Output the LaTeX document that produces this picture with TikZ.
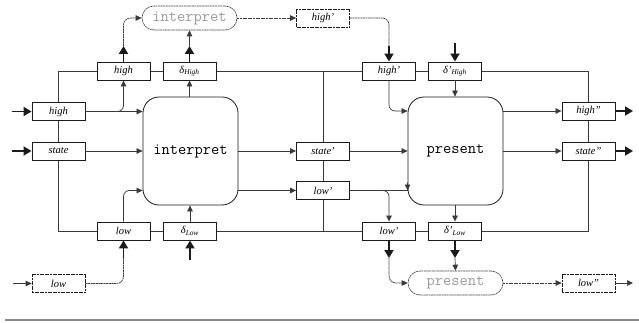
\documentclass[tikz,border=0pt]{standalone}
\usepackage{fontspec}
\setmainfont{Liberation Serif}
\usepackage{tikz}
\usetikzlibrary{positioning,arrows.meta,backgrounds,calc}
\definecolor{cInk}{HTML}{1B1B1B}
\definecolor{cLine}{HTML}{3A3A3A}
\definecolor{cGhost}{HTML}{9A9A9A}
\definecolor{cRule}{HTML}{8A8A8A}
\tikzset{
  cell/.style={draw=cInk, line width=0.9pt, fill=white, minimum width=53pt,
               minimum height=18pt, inner sep=0pt, font=\fontsize{10.5}{12}\selectfont\itshape},
  cellD/.style={cell, line width=0.7pt, dash pattern=on 2pt off 0.6pt},
  proc/.style={draw=cInk, line width=0.8pt, fill=white, rounded corners=16pt,
               minimum width=95pt, minimum height=108pt,
               font=\fontsize{16}{18}\selectfont\ttfamily},
  ghost/.style={draw=black!75, line width=0.6pt, dash pattern=on 2pt off 0.6pt,
                rounded corners=12pt, minimum width=95pt, minimum height=24pt,
                text=cGhost, font=\fontsize{16}{18}\selectfont\ttfamily},
  ln/.style={cLine, line width=0.7pt},
  lnD/.style={ln, dash pattern=on 2pt off 0.6pt},
  ar/.style={ln, -{Triangle[length=6pt,width=5.5pt]}},
  arD/.style={ar, lnD},
  arT/.style={cInk, line width=1.8pt, -{Triangle[length=8pt,width=9pt]}}
}
\begin{document}
\begin{tikzpicture}[x=1pt, y=-1pt]
\useasboundingbox (0,0) rectangle (639,323);
% left side
\node[cell] (hi) at (58.5,111.5) {high};
\node[cell] (st) at (58.5,151) {state};
\node[cellD] (lo) at (58.5,283.5) {low};
\node[cell] (hiA) at (123.5,71) {high};
\node[cell] (dH) at (189.5,71) {δ\textsubscript{High}};
\node[cell] (loA) at (123.5,231) {low};
\node[cell] (dL) at (190,231) {δ\textsubscript{Low}};
\node[proc] (interp) at (190.5,151) {interpret};
\node[ghost] (gI) at (189.5,18) {interpret};
% middle
\node[cellD] (hiP) at (323,18) {high'};
\node[cell] (stP) at (323,151) {state'};
\node[cell] (loP) at (323,190.5) {low'};
% right side
\node[cell] (hiB) at (389,71) {high'};
\node[cell] (dHp) at (455,71) {δ'\textsubscript{High}};
\node[cell] (loB) at (389,231) {low'};
\node[cell] (dLp) at (455,231) {δ'\textsubscript{Low}};
\node[proc] (pres) at (455.5,151) {present};
\node[ghost] (gP) at (455.5,283) {present};
\node[cell] (hi2) at (588.5,111) {high''};
\node[cell] (st2) at (588.5,151) {state''};
\node[cellD] (lo2) at (588.5,283) {low''};
% free ends
\coordinate (inHi) at (12,111.5);
\coordinate (inSt) at (12,151);
\coordinate (inLo) at (13,283.5);
\coordinate (inDH) at (455,43);
\coordinate (inDL) at (190,260);
\coordinate (outHi) at (633,111);
\coordinate (outSt) at (633,151);
\coordinate (outLo) at (633,283);
\coordinate (uA) at (123.5,46);
\coordinate (uB) at (189.5,46);
\coordinate (uC) at (389,46);
\coordinate (dA) at (389,258);
\coordinate (dB) at (455,258);
\coordinate (dC) at (123.5,258);
\coordinate (pc) at (pres.west |- loP);
% bus lines
\begin{scope}[on background layer]
\draw[ln] (hiA.west) -| (hi.north);
\draw[ln] (hi) -- (st);
\draw[ln] (st.south) |- (loA.west);
\draw[ln] (hiA) -- (dH) -- (hiB) -- (dHp) -| (hi2.north);
\draw[ln] (loA) -- (dL) -- (loB) -- (dLp) -| (st2.south);
\draw[ln] (hi2) -- (st2);
\draw[ln] (stP |- hiA) -- (stP |- loA);
\end{scope}
% inputs and outputs
\draw[arT] (inHi) -- (hi.west);
\draw[arT] (inSt) -- (st.west);
\draw[ar] (inLo) -- (lo.west);
\draw[arT] (inDH) -- (dHp.north);
\draw[arT] (inDL) -- (dL.south);
\draw[arT] (hi2.east) -- (outHi);
\draw[arT] (st2.east) -- (outSt);
\draw[ar] (lo2.east) -- (outLo);
% interpret
\draw[ar] (hi.east) -- (hi.east -| interp.west);
\draw[ar, rounded corners=6pt] (hi.east) -| (hiA.south);
\draw[ar] (st.east) -- (st.east -| interp.west);
\draw[ar, rounded corners=6pt] (loA.north) |- (interp.west |- loP);
\draw[ar] (interp.north -| dH) -- (dH.south);
\draw[ar] (dL.north) -- (interp.south -| dL);
\draw[arT] (hiA.north) -- (uA);
\draw[arD, rounded corners=7pt] (uA) |- (gI.west);
\draw[arT] (dH.north) -- (uB);
\draw[ar] (uB) -- (gI.south);
\draw[arD] (gI.east) -- (hiP.west);
\draw[lnD, rounded corners=7pt] (lo.east) -| (dC);
\draw[arT] (dC) -- (loA.south);
% middle
\draw[ar] (interp.east |- stP) -- (stP.west);
\draw[ar] (interp.east |- loP) -- (loP.west);
\draw[ar] (stP.east) -- (stP.east -| pres.west);
\draw[ar] (loP.east) -- (pc) -- ++(0,-8) -- (pc);
\draw[ar, rounded corners=6pt] (loP.east) -| (loB.north);
% present
\draw[lnD, rounded corners=7pt] (hiP.east) -| (uC);
\draw[arT] (uC) -- (hiB.north);
\draw[ar, rounded corners=6pt] (hiB.south) |- (pres.west |- hi2);
\draw[ar] (dHp.south) -- (pres.north -| dHp);
\draw[ar] (pres.east |- hi2) -- (hi2.west);
\draw[ar] (pres.east |- st2) -- (st2.west);
\draw[ar] (pres.south -| dLp) -- (dLp.north);
\draw[arT] (loB.south) -- (dA);
\draw[arD, rounded corners=7pt] (dA) |- (gP.west);
\draw[arT] (dLp.south) -- (dB);
\draw[ar] (dB) -- (gP.north);
\draw[arD] (gP.east) -- (lo2.west);
% rule
\draw[cRule, line width=2pt] (5,320) -- (639,320);
\end{tikzpicture}
\end{document}
